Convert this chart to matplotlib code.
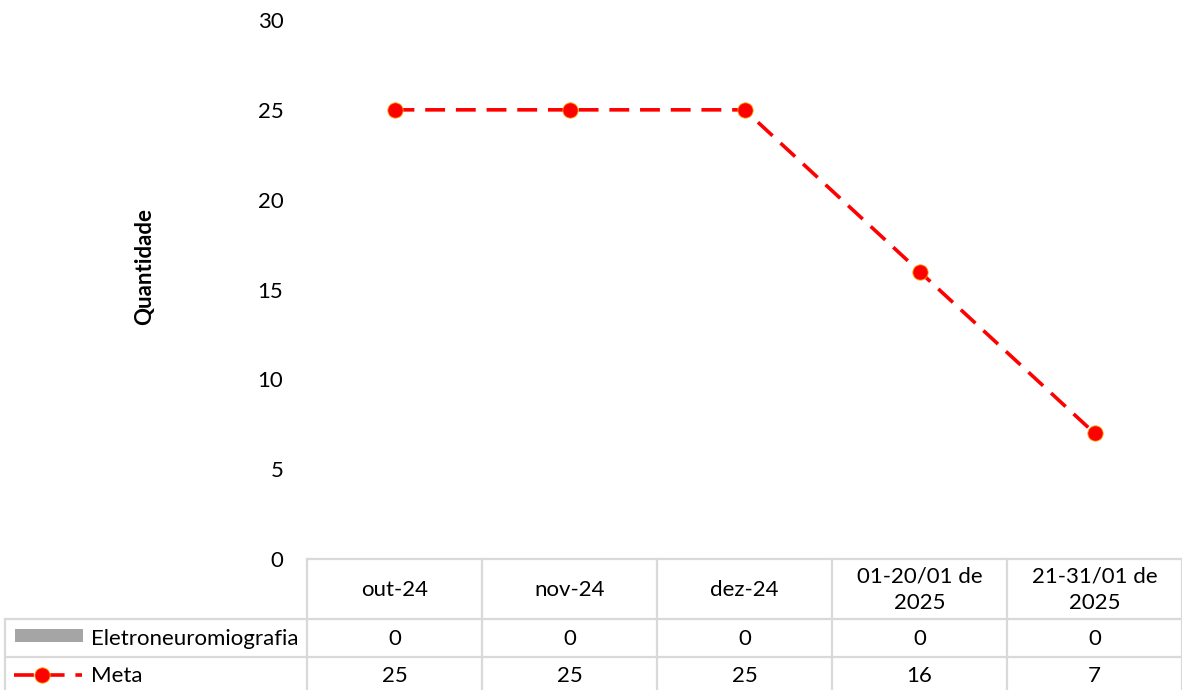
import numpy as np
import matplotlib
matplotlib.use('Agg')
import matplotlib.pyplot as plt
from matplotlib.transforms import blended_transform_factory
from matplotlib.lines import Line2D
from matplotlib.patches import Rectangle

plt.rcParams['font.family'] = ['Lato', 'DejaVu Sans']

categories = ['out-24', 'nov-24', 'dez-24', '01-20/01 de\n2025', '21-31/01 de\n2025']
eletro = [0, 0, 0, 0, 0]
meta = [25, 25, 25, 16, 7]
series_names = ['Eletroneuromiografia', 'Meta']

FS = 16
W, H = 1182, 690
fig = plt.figure(figsize=(W / 100, H / 100), dpi=100)

# main plot area (pixel layout)
left, right, top, bottom = 307, 1182, 20, 559
ax = fig.add_axes([left / W, (H - bottom) / H, (right - left) / W, (bottom - top) / H])
x = np.arange(len(categories))
ax.bar(x, eletro, width=0.6, color='#a5a5a5')
ax.plot(x, meta, color='#ff0000', lw=2.6, dashes=(5.5, 3), marker='o',
        ms=11, mfc='#ff0000', mec='#ffa000', mew=0.6, zorder=3)
ax.set_xlim(-0.5, len(categories) - 0.5)
ax.set_ylim(0, 30)
ax.set_yticks(np.arange(0, 31, 5))
ax.set_xticks([])
ax.tick_params(axis='y', length=0, pad=17, labelsize=FS)
for s in ax.spines.values():
    s.set_visible(False)
ax.patch.set_alpha(0)
fig.text(145 / W, 1 - 266 / H, 'Quantidade', rotation=90, fontsize=FS,
         fontweight='bold', ha='center', va='center')

# data table below the plot
tab = fig.add_axes([0, 0, 1, 1], zorder=-1)
tab.set_xlim(0, W)
tab.set_ylim(H, 0)
tab.axis('off')
tr = blended_transform_factory(ax.transData, tab.transData)
gc = '#d9d9d9'
glw = 1.6
n = len(categories)
row_y = [bottom, 619, 657, 692]

tab.plot([-0.5, n - 0.5], [row_y[0]] * 2, color=gc, lw=glw, transform=tr)
for yy in row_y[1:3]:
    tab.plot([5, W], [yy, yy], color=gc, lw=glw)
for i in range(n + 1):
    tab.plot([i - 0.5, i - 0.5], [row_y[0], row_y[3]], color=gc, lw=glw, transform=tr)
tab.plot([5, 5], [row_y[1], row_y[3]], color=gc, lw=glw)

for i, c in enumerate(categories):
    tab.text(i, (row_y[0] + row_y[1]) / 2 + 1, c, ha='center', va='center',
             fontsize=FS, linespacing=1.4, transform=tr)
    tab.text(i, (row_y[1] + row_y[2]) / 2 + 1, str(eletro[i]), ha='center',
             va='center', fontsize=FS, transform=tr)
    tab.text(i, (row_y[2] + row_y[3]) / 2 + 1, str(meta[i]), ha='center',
             va='center', fontsize=FS, transform=tr)

# row labels with legend keys
tab.add_patch(Rectangle((15, 629), 68, 13, color='#a5a5a5', lw=0))
tab.text(91, (row_y[1] + row_y[2]) / 2 + 1, series_names[0], ha='left', va='center', fontsize=FS)
tab.add_line(Line2D([14, 82], [675, 675], color='#ff0000', lw=2.6, dashes=(5.5, 3)))
tab.plot([42], [675], marker='o', ms=11, mfc='#ff0000', mec='#ffa000', mew=0.6, ls='none')
tab.text(91, (row_y[2] + row_y[3]) / 2 + 1, series_names[1], ha='left', va='center', fontsize=FS)

fig.savefig('out.png', dpi=100)
